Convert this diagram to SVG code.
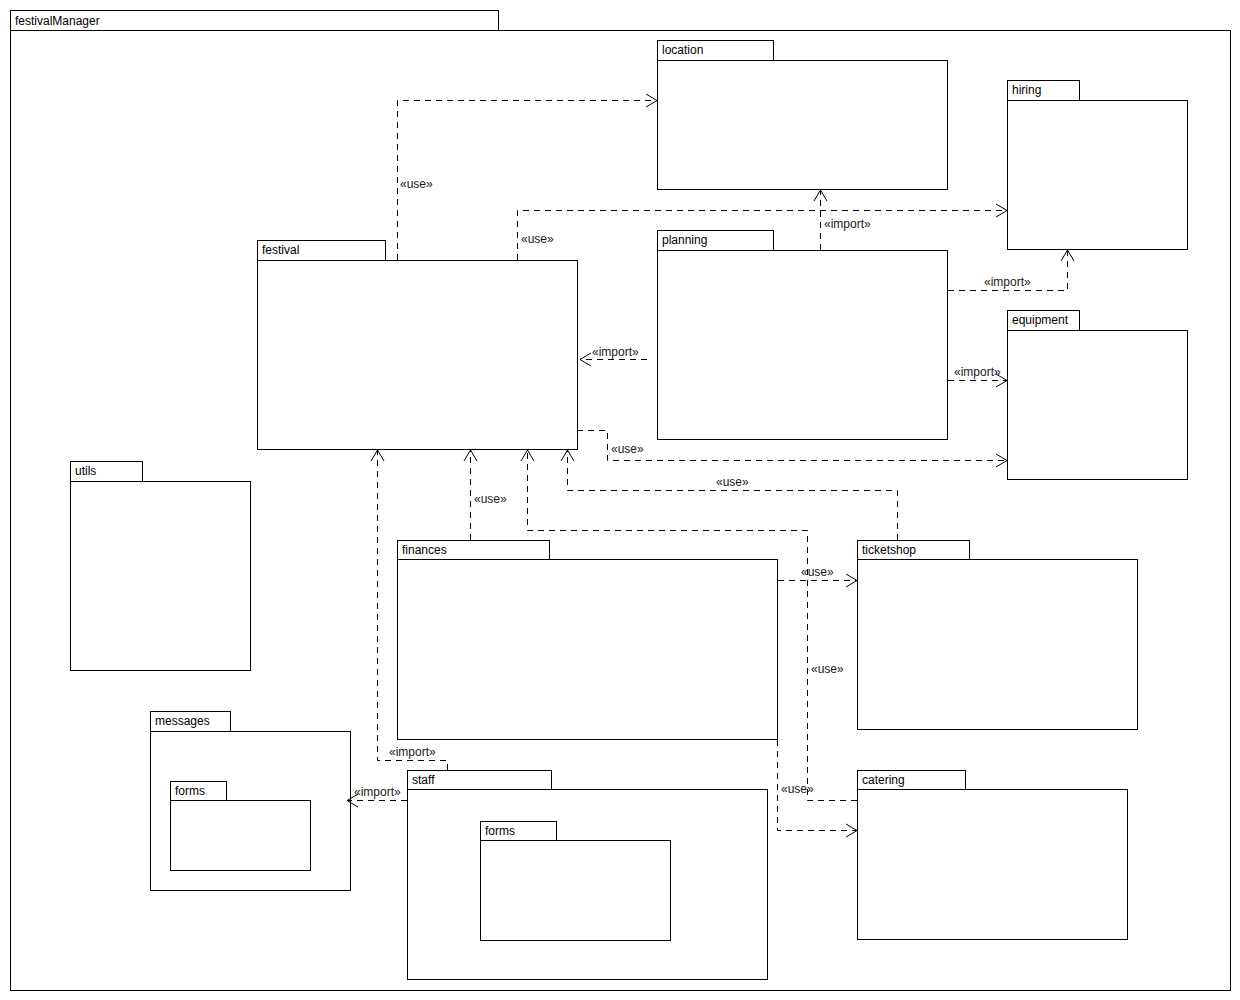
<svg xmlns="http://www.w3.org/2000/svg" width="1240" height="1000" viewBox="0 0 1240 1000">
  <style>
    .pkg rect { fill: #ffffff; stroke: #000000; stroke-width: 1; }
    .name { font-family: "Liberation Sans", Arial, sans-serif; font-size: 12px; fill: #000000; }
    .dep { fill: none; stroke: #000000; stroke-width: 1; stroke-dasharray: 6 5; marker-end: url(#open); }
    .lbl { font-family: "Liberation Sans", Arial, sans-serif; font-size: 12px; fill: #1a1a1a; }
  </style>
  <defs>
    <marker id="open" markerUnits="userSpaceOnUse" markerWidth="14" markerHeight="16" viewBox="0 0 14 16" refX="12" refY="8" orient="auto">
      <path d="M1,1.5 L12,8 L1,14.5" fill="none" stroke="#000000" stroke-width="1"/>
    </marker>
  </defs>
  <rect x="0" y="0" width="1240" height="1000" fill="#ffffff"/>

  <!-- outer package -->
  <g id="festivalManager" class="pkg">
    <rect x="10.5" y="10.5" width="488" height="20"/>
    <rect x="10.5" y="30.5" width="1220" height="960"/>
    <text class="name" x="15" y="25">festivalManager</text>
  </g>

  <g id="location" class="pkg">
    <rect x="657.5" y="40.5" width="116" height="20"/>
    <rect x="657.5" y="60.5" width="290" height="129"/>
    <text class="name" x="662" y="54">location</text>
  </g>

  <g id="hiring" class="pkg">
    <rect x="1007.5" y="80.5" width="72" height="20"/>
    <rect x="1007.5" y="100.5" width="180" height="149"/>
    <text class="name" x="1012" y="94">hiring</text>
  </g>

  <g id="festival" class="pkg">
    <rect x="257.5" y="240.5" width="128" height="20"/>
    <rect x="257.5" y="260.5" width="320" height="189"/>
    <text class="name" x="262" y="254">festival</text>
  </g>

  <g id="planning" class="pkg">
    <rect x="657.5" y="230.5" width="116" height="20"/>
    <rect x="657.5" y="250.5" width="290" height="189"/>
    <text class="name" x="662" y="244">planning</text>
  </g>

  <g id="equipment" class="pkg">
    <rect x="1007.5" y="310.5" width="72" height="20"/>
    <rect x="1007.5" y="330.5" width="180" height="149"/>
    <text class="name" x="1012" y="324">equipment</text>
  </g>

  <g id="utils" class="pkg">
    <rect x="70.5" y="461.5" width="72" height="20"/>
    <rect x="70.5" y="481.5" width="180" height="189"/>
    <text class="name" x="75" y="475">utils</text>
  </g>

  <g id="finances" class="pkg">
    <rect x="397.5" y="540.5" width="152" height="19"/>
    <rect x="397.5" y="559.5" width="380" height="180"/>
    <text class="name" x="402" y="554">finances</text>
  </g>

  <g id="ticketshop" class="pkg">
    <rect x="857.5" y="540.5" width="112" height="19"/>
    <rect x="857.5" y="559.5" width="280" height="170"/>
    <text class="name" x="862" y="554">ticketshop</text>
  </g>

  <g id="messages" class="pkg">
    <rect x="150.5" y="711.5" width="80" height="20"/>
    <rect x="150.5" y="731.5" width="200" height="159"/>
    <text class="name" x="155" y="725">messages</text>
    <g id="messages-forms">
      <rect x="170.5" y="781.5" width="56" height="19"/>
      <rect x="170.5" y="800.5" width="140" height="70"/>
      <text class="name" x="175" y="795">forms</text>
    </g>
  </g>

  <g id="staff" class="pkg">
    <rect x="407.5" y="770.5" width="144" height="19"/>
    <rect x="407.5" y="789.5" width="360" height="190"/>
    <text class="name" x="412" y="784">staff</text>
    <g id="staff-forms">
      <rect x="480.5" y="821.5" width="76" height="19"/>
      <rect x="480.5" y="840.5" width="190" height="100"/>
      <text class="name" x="485" y="835">forms</text>
    </g>
  </g>

  <g id="catering" class="pkg">
    <rect x="857.5" y="770.5" width="108" height="19"/>
    <rect x="857.5" y="789.5" width="270" height="150"/>
    <text class="name" x="862" y="784">catering</text>
  </g>

  <!-- dependencies -->
  <g id="connectors">
    <path class="dep" d="M397.5,260 L397.5,100.5 L657,100.5"/>
    <path class="dep" d="M517.5,260 L517.5,210.5 L1007,210.5"/>
    <path class="dep" d="M820.5,250 L820.5,190"/>
    <path class="dep" d="M948,290.5 L1067.5,290.5 L1067.5,250"/>
    <path class="dep" d="M948,380.5 L1007,380.5"/>
    <path class="dep" d="M647,359.5 L580,359.5"/>
    <path class="dep" d="M577,430.5 L607.5,430.5 L607.5,460.5 L1007,460.5"/>
    <path class="dep" d="M897.5,540 L897.5,490.5 L567.5,490.5 L567.5,450"/>
    <path class="dep" d="M470.5,540 L470.5,450"/>
    <path class="dep" d="M857,800.5 L807.5,800.5 L807.5,530.5 L527.5,530.5 L527.5,450"/>
    <path class="dep" d="M778,580.5 L857,580.5"/>
    <path class="dep" d="M777.5,740 L777.5,830.5 L857,830.5"/>
    <path class="dep" d="M447.5,770 L447.5,760.5 L377.5,760.5 L377.5,450"/>
    <path class="dep" d="M407,800.5 L347,800.5"/>

    <text class="lbl" x="400" y="188">«use»</text>
    <text class="lbl" x="521" y="243">«use»</text>
    <text class="lbl" x="824" y="228">«import»</text>
    <text class="lbl" x="984" y="286">«import»</text>
    <text class="lbl" x="954" y="376">«import»</text>
    <text class="lbl" x="592" y="356">«import»</text>
    <text class="lbl" x="611" y="453">«use»</text>
    <text class="lbl" x="716" y="486">«use»</text>
    <text class="lbl" x="474" y="503">«use»</text>
    <text class="lbl" x="811" y="673">«use»</text>
    <text class="lbl" x="801" y="576">«use»</text>
    <text class="lbl" x="781" y="793">«use»</text>
    <text class="lbl" x="389" y="756">«import»</text>
    <text class="lbl" x="354" y="796">«import»</text>
  </g>
</svg>
